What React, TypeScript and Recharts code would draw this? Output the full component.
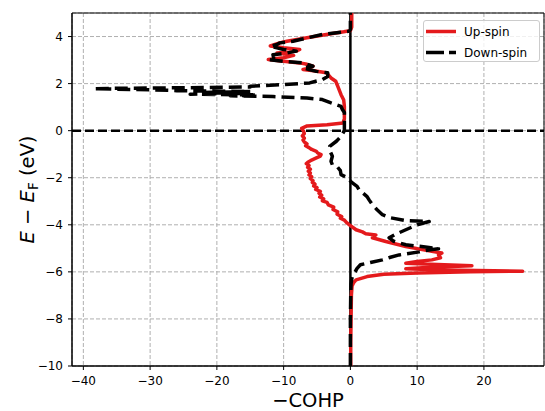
import React from "react";
import {
  ScatterChart, Scatter, XAxis, YAxis, CartesianGrid, ReferenceLine, ReferenceArea,
} from "recharts";

// Up-spin (red, solid): energy (eV) and -COHP
const UP_ENERGY = [
  -10, -9, -8, -7, -6.6, -6.45, -6.34, -6.2, -6.1, -6.05, -6.0, -5.97,
  -5.92, -5.87, -5.8, -5.74, -5.68, -5.63, -5.56, -5.49, -5.4, -5.28, -5.2, -5.13,
  -4.92, -4.71, -4.55, -4.43, -4.38, -4.3, -4.21, -4.0, -3.9, -3.8, -3.72, -3.65,
  -3.55, -3.45, -3.35, -3.25, -3.15, -3.05, -2.98, -2.9, -2.82, -2.74, -2.66, -2.58,
  -2.5, -2.42, -2.35, -2.27, -2.2, -2.12, -2.04, -1.96, -1.88, -1.8, -1.72, -1.64,
  -1.56, -1.48, -1.4, -1.33, -1.25, -1.16, -1.08, -1.02, -0.95, -0.88, -0.8, -0.72,
  -0.64, -0.56, -0.48, -0.4, -0.32, -0.22, -0.12, -0.03, 0.1, 0.2, 0.25, 0.33,
  0.5, 0.9, 1.03, 1.3, 1.53, 1.89, 2.1, 2.24, 2.46, 2.55, 2.6, 2.67,
  2.74, 2.82, 2.88, 2.95, 3.02, 3.1, 3.2, 3.3, 3.38, 3.45, 3.52, 3.6,
  3.73, 3.8, 3.95, 4.09, 4.2, 4.25, 4.4, 5.0,
];
const UP_COHP = [
  0.05, 0.05, 0.1, 0.15, 0.25, 0.5, 0.85, 2.5, 5, 10, 18, 25.8,
  14, 8.3, 12, 18.2, 12, 8.3, 10, 12.2, 13.5, 13.2, 13.7, 12.2,
  8.3, 5.3, 3.3, 3.8, 2.3, 1.8, 0.85, -0.15, -0.6, -0.9, -1.5, -1.3,
  -2.0, -1.9, -2.6, -2.5, -3.3, -3.5, -4.2, -4.0, -4.6, -4.3, -4.7, -4.5,
  -5.2, -5.0, -5.5, -5.3, -5.7, -5.6, -6.0, -5.8, -6.2, -6.0, -6.3, -6.0,
  -6.4, -6.2, -6.6, -6.3, -5.8, -5.1, -4.5, -4.4, -4.9, -5.1, -5.8, -6.2,
  -6.7, -6.5, -6.9, -7.1, -6.9, -7.2, -6.9, -7.0, -7.3, -6.5, -3.5, -1.1,
  -0.9, -0.9, -0.9, -1.0, -1.4, -1.9, -2.2, -2.9, -3.6, -5.5, -7.1, -6.0,
  -5.6, -6.5, -7.6, -10, -12.3, -10, -8.5, -11, -8.1, -7.6, -10, -12,
  -10.6, -9.5, -6.5, -3.6, -1.0, 0.0, 0.2, 0.2,
];

// Down-spin (black, dashed)
const DOWN_ENERGY = [
  -10, -8, -7, -6.5, -6.3, -6.1, -6.0, -5.85, -5.7, -5.6, -5.49, -5.38,
  -5.28, -5.15, -5.06, -5.02, -4.95, -4.85, -4.7, -4.55, -4.4, -4.21, -4.0, -3.86,
  -3.82, -3.7, -3.57, -3.36, -3.15, -2.94, -2.8, -2.51, -2.37, -2.2, -2.0, -1.87,
  -1.7, -1.52, -1.45, -1.3, -1.09, -0.9, -0.67, -0.45, -0.24, 0.0, 0.2, 0.34,
  0.6, 0.77, 0.9, 1.03, 1.18, 1.32, 1.39, 1.45, 1.48, 1.52, 1.55, 1.58,
  1.62, 1.66, 1.7, 1.74, 1.78, 1.8, 1.83, 1.86, 1.89, 1.96, 2.03, 2.17,
  2.3, 2.46, 2.52, 2.6, 2.67, 2.74, 2.82, 2.88, 2.95, 3.02, 3.1, 3.23,
  3.3, 3.38, 3.45, 3.52, 3.59, 3.66, 3.73, 3.8, 4.09, 4.2, 4.23, 4.3, 5.0,
];
const DOWN_COHP = [
  0.0, 0.0, 0.05, 0.1, 0.2, 0.4, 0.7, 1.0, 1.5, 3.0, 4.8, 6.0,
  7.3, 10.3, 12.0, 13.2, 11.5, 8.3, 6.5, 5.8, 6.8, 8.3, 10.0, 11.8,
  8.3, 6.0, 4.8, 4.0, 3.3, 2.8, 2.5, 1.3, 1.0, 0.2, -0.45, -1.4,
  -1.5, -2.0, -2.7, -2.9, -2.7, -3.0, -3.1, -2.1, -1.4, -0.9, -0.9, -0.9,
  -0.9, -0.9, -1.2, -1.4, -2.9, -4.2, -6.5, -11.6, -18, -14, -24, -16,
  -22, -15, -26, -30, -38.4, -35, -22, -15, -15, -10, -6.1, -4.2,
  -3.4, -3.4, -5.1, -6.2, -7.1, -5.6, -6.5, -7.1, -10, -12.3, -11.5, -11.6,
  -9.5, -8.1, -10, -11, -12, -11, -10.6, -8.6, -4.2, -1.0, -0.15, 0.0, 0.0,
];

const X_TICKS = [-40, -30, -20, -10, 0, 10, 20];
const Y_TICKS = [-10, -8, -6, -4, -2, 0, 2, 4];
const X_DOMAIN: [number, number] = [-41.7, 29];
const Y_DOMAIN: [number, number] = [-10, 5];

const upData = UP_ENERGY.map((e, i) => ({ x: UP_COHP[i], y: e }));
const downData = DOWN_ENERGY.map((e, i) => ({ x: DOWN_COHP[i], y: e }));

const RED = "#e41a1c";
const FONT = "DejaVu Sans";
const fmt = (v: number) => (v < 0 ? `\u2212${-v}` : `${v}`);
const noDot = () => <g />;

const YLabel = () => (
  <text x={34} y={189.5} transform="rotate(-90 34 189.5)" textAnchor="middle"
    fontFamily={FONT} fontSize={19.5} fill="#000">
    <tspan fontStyle="italic">E</tspan>
    <tspan> {"\u2212"} </tspan>
    <tspan fontStyle="italic">E</tspan>
    <tspan fontSize={13.5} dy={4}>F</tspan>
    <tspan dy={-4}> (eV)</tspan>
  </text>
);

export default function App() {
  return (
    <div style={{ position: "absolute", left: 0, top: 0, width: 545, height: 411, background: "#fff" }}>
      <ScatterChart width={545} height={411} margin={{ top: 13, right: 1, bottom: 0, left: 0 }}>
        <CartesianGrid stroke="#b0b0b0" strokeDasharray="4 2" strokeWidth={1} />
        <XAxis type="number" dataKey="x" domain={X_DOMAIN} ticks={X_TICKS} allowDataOverflow
          height={45} tickFormatter={fmt} tickSize={4} tickMargin={6}
          tick={{ fill: "#000", fontSize: 12, fontFamily: FONT }}
          tickLine={{ stroke: "#000" }} axisLine={{ stroke: "#000" }}
          label={{ value: "\u2212COHP", position: "insideBottom", offset: 4, fill: "#000", fontSize: 19.5, fontFamily: FONT }} />
        <YAxis type="number" dataKey="y" domain={Y_DOMAIN} ticks={Y_TICKS} allowDataOverflow
          width={72} tickFormatter={fmt} tickSize={4} tickMargin={5}
          tick={{ fill: "#000", fontSize: 12, fontFamily: FONT }}
          tickLine={{ stroke: "#000" }} axisLine={{ stroke: "#000" }}
          label={<YLabel />} />
        <Scatter data={upData} fill={RED} shape={noDot} isAnimationActive={false}
          line={{ stroke: RED, strokeWidth: 3.5, strokeLinejoin: "round" }} />
        <Scatter data={downData} fill="#000" shape={noDot} isAnimationActive={false}
          line={{ stroke: "#000", strokeWidth: 3.5, strokeDasharray: "13 6", strokeLinejoin: "round" }} />
        <ReferenceLine x={0} stroke="#000" strokeWidth={2.5} />
        <ReferenceLine y={0} stroke="#000" strokeWidth={2.5} strokeDasharray="9 4" />
        <ReferenceArea x1={X_DOMAIN[0]} x2={X_DOMAIN[1]} y1={Y_DOMAIN[0]} y2={Y_DOMAIN[1]}
          fill="none" fillOpacity={0} stroke="#000" strokeWidth={1} />
      </ScatterChart>
      <div style={{
        position: "absolute", left: 423, top: 20, width: 115, height: 40,
        border: "1px solid #cccccc", borderRadius: 3, background: "rgba(255,255,255,0.8)",
      }}>
        <svg width={115} height={40} style={{ display: "block" }}>
          <line x1={2} x2={32} y1={10.5} y2={10.5} stroke={RED} strokeWidth={3.5} />
          <text x={40} y={15} fontFamily={FONT} fontSize={12} fill="#000">Up-spin</text>
          <line x1={2} x2={32} y1={31.5} y2={31.5} stroke="#000" strokeWidth={3.5} strokeDasharray="18 5" />
          <text x={40} y={36} fontFamily={FONT} fontSize={12} fill="#000">Down-spin</text>
        </svg>
      </div>
    </div>
  );
}
